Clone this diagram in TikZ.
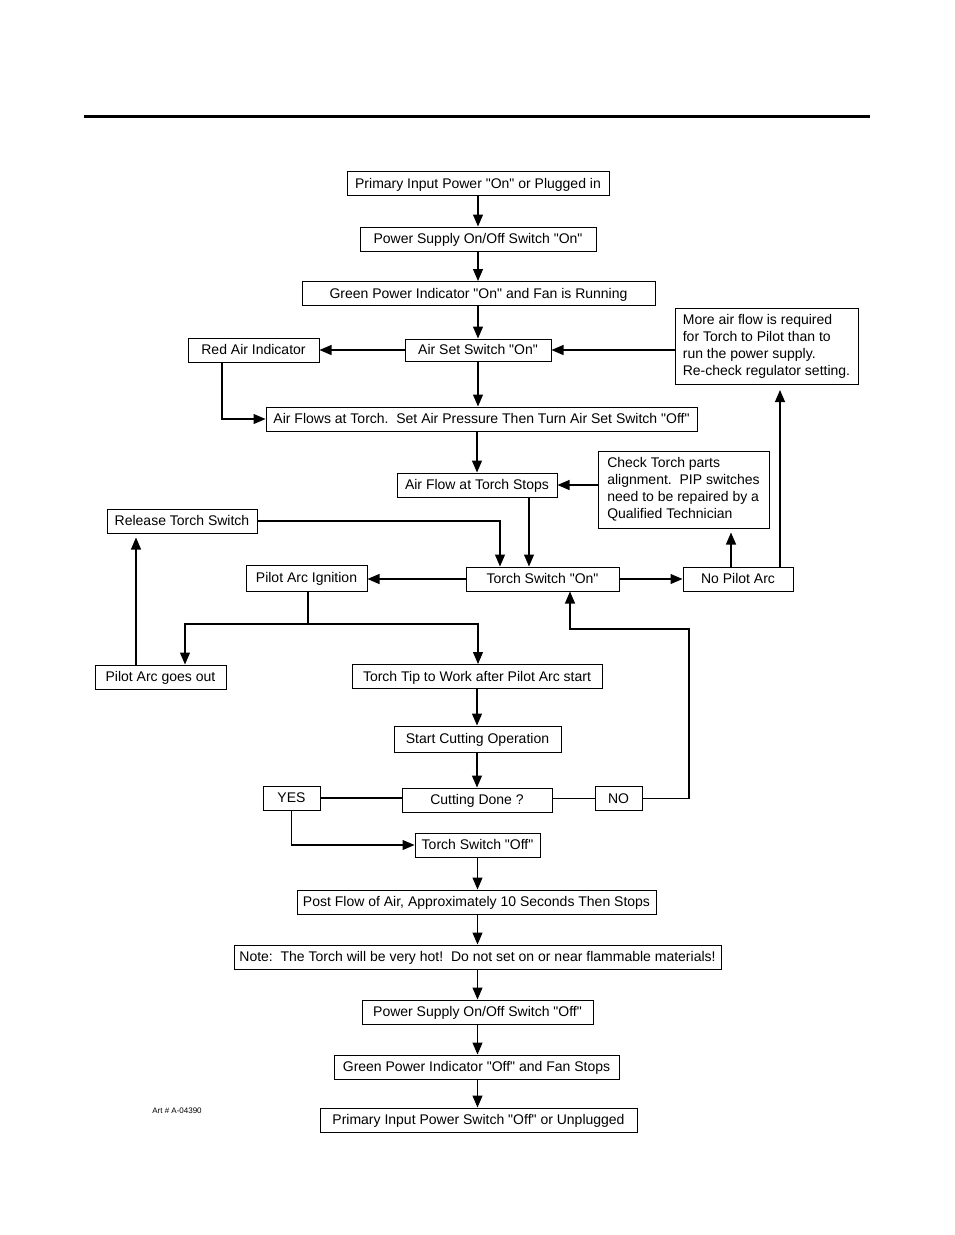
\documentclass[tikz,border=0pt]{standalone}
\usepackage{fontspec}
\setmainfont{Liberation Sans}
\usetikzlibrary{arrows.meta}
\newcommand{\dq}{\XeTeXglyph\XeTeXcharglyph"0022\relax}

\begin{document}
\begin{tikzpicture}[x=1pt,y=-1pt,line width=1.1pt,>={Triangle[length=12pt,width=10pt]},
  box/.style={draw,line width=1pt,minimum height=24pt,inner sep=0pt,
    text height=11pt,text depth=2pt,font=\fontsize{14}{17}\selectfont},
  multibox/.style={draw,line width=1pt,inner sep=0pt,align=left,
    font=\fontsize{14}{17}\selectfont}]
\useasboundingbox (0,0) rectangle (954,1235);
% ---------- page rule ----------
\draw[line width=3pt] (84,116) -- (870,116);
% ---------- start up ----------
\node[box,minimum width=262] (pin) at (478,183.5) {Primary Input Power \dq On\dq{} or Plugged in};
\node[box,minimum width=236] (pss) at (478,239) {Power Supply On/Off Switch \dq On\dq};
\node[box,minimum width=353] (gpi) at (478.5,293.5) {Green Power Indicator \dq On\dq{} and Fan is Running};
\node[box,minimum width=146,minimum height=22] (ass) at (478,350) {Air Set Switch \dq On\dq};
\node[box,minimum width=131] (rai) at (253.5,350) {Red Air Indicator};
\node[multibox,minimum width=183,minimum height=76] (more) at (766.5,346.5)
  {More air flow is required\\for Torch to Pilot than to\\run the power supply.\\Re-check regulator setting.};
\node[box,minimum width=431] (afat) at (481.5,419) {Air Flows at Torch.\ \ Set Air Pressure Then Turn Air Set Switch \dq Off\dq};
\node[box,minimum width=160] (afs) at (477,485) {Air Flow at Torch Stops};
\node[multibox,minimum width=171,minimum height=77] (chk) at (683.5,489.5)
  {Check Torch parts\\alignment.\ \ PIP switches\\need to be repaired by a\\Qualified Technician};
% ---------- torch switch ----------
\node[box,minimum width=150] (rts) at (182,521) {Release Torch Switch};
\node[box,minimum width=121,minimum height=26] (pai) at (306.5,578) {Pilot Arc Ignition};
\node[box,minimum width=153] (tson) at (542.5,579) {Torch Switch \dq On\dq};
\node[box,minimum width=110] (npa) at (738,579) {No Pilot Arc};
\node[box,minimum width=131] (pago) at (160.5,677) {Pilot Arc goes out};
\node[box,minimum width=250] (ttw) at (477,676.5) {Torch Tip to Work after Pilot Arc start};
% ---------- cutting ----------
\node[box,minimum width=167,minimum height=26] (sco) at (477.5,739) {Start Cutting Operation};
\node[box,minimum width=150] (cd) at (477,800) {Cutting Done ?};
\node[box,minimum width=57] (yes) at (291.5,798) {YES};
\node[box,minimum width=47] (no) at (618.5,798.5) {NO};
% ---------- shut down ----------
\node[box,minimum width=125] (tsoff) at (477.5,845) {Torch Switch \dq Off\dq};
\node[box,minimum width=359] (pfa) at (476.5,902) {Post Flow of Air, Approximately 10 Seconds Then Stops};
\node[box,minimum width=487] (hot) at (477.5,957) {Note:\ \ The Torch will be very hot!\ \ Do not set on or near flammable materials!};
\node[box,minimum width=231] (pssoff) at (477.5,1012) {Power Supply On/Off Switch \dq Off\dq};
\node[box,minimum width=285] (gpioff) at (476.5,1067) {Green Power Indicator \dq Off\dq{} and Fan Stops};
\node[box,minimum width=317] (pioff) at (478.5,1120) {Primary Input Power Switch \dq Off\dq{} or Unplugged};
\node[font=\fontsize{8}{9}\selectfont] (art) at (177,1111) {Art \# A-04390};
% ---------- connectors ----------
\draw[->] (pin.south) -- (pin.south |- pss.north);
\draw[->] (pss.south) -- (pss.south |- gpi.north);
\draw[->] (ass.north |- gpi.south) -- (ass.north);
\draw[->] (ass.west) -- (rai.east);
\draw[->] (more.west |- ass.east) -- (ass.east);
\draw[->] (ass.south) -- (ass.south |- afat.north);
\draw[->] ([xshift=-31.5]rai.south) |- (afat.west);
\draw[->] (afs.north |- afat.south) -- (afs.north);
\draw[->] (chk.west |- afs.east) -- (afs.east);
\draw[->] ([xshift=52]afs.south) -- ([xshift=52]afs.south |- tson.north);
\draw[->] (rts.east) -| ([xshift=-42.5]tson.north);
\draw[->] (tson.west) -- (pai.east |- tson.west);
\draw[->] (tson.east) -- (npa.west);
\draw[->,shorten >=4pt] ([xshift=-7]npa.north) -- ([xshift=-7]npa.north |- chk.south);
\draw[->,shorten >=5pt] ([xshift=42]npa.north) -- ([xshift=42]npa.north |- more.south);
% fork below the ignition box
\coordinate (fork) at (308,624);
\draw (pai.south -| fork) -- (fork);
\draw[->] (fork) -| ([xshift=24.5]pago.north);
\draw[->] (fork) -| ([xshift=1]ttw.north);
\draw[->,shorten >=4pt] ([xshift=-24.5]pago.north) -- ([xshift=-24.5]pago.north |- rts.south);
\draw[->] (ttw.south) -- (ttw.south |- sco.north);
\draw[->] (cd.north |- sco.south) -- (cd.north);
\draw (cd.west |- yes.east) -- (yes.east);
\draw (cd.east |- no.west) -- (no.west);
\coordinate (back) at (689,629);
\draw[->] (no.east) -| (back) -| ([xshift=27.5]tson.south);
\draw[->] (yes.south) |- (tsoff.west);
\draw[->] (tsoff.south) -- (tsoff.south |- pfa.north);
\draw[->] (tsoff.south |- pfa.south) -- (tsoff.south |- hot.north);
\draw[->] (tsoff.south |- hot.south) -- (tsoff.south |- pssoff.north);
\draw[->] (tsoff.south |- pssoff.south) -- (tsoff.south |- gpioff.north);
\draw[->] (tsoff.south |- gpioff.south) -- (tsoff.south |- pioff.north);
\end{tikzpicture}
\end{document}
